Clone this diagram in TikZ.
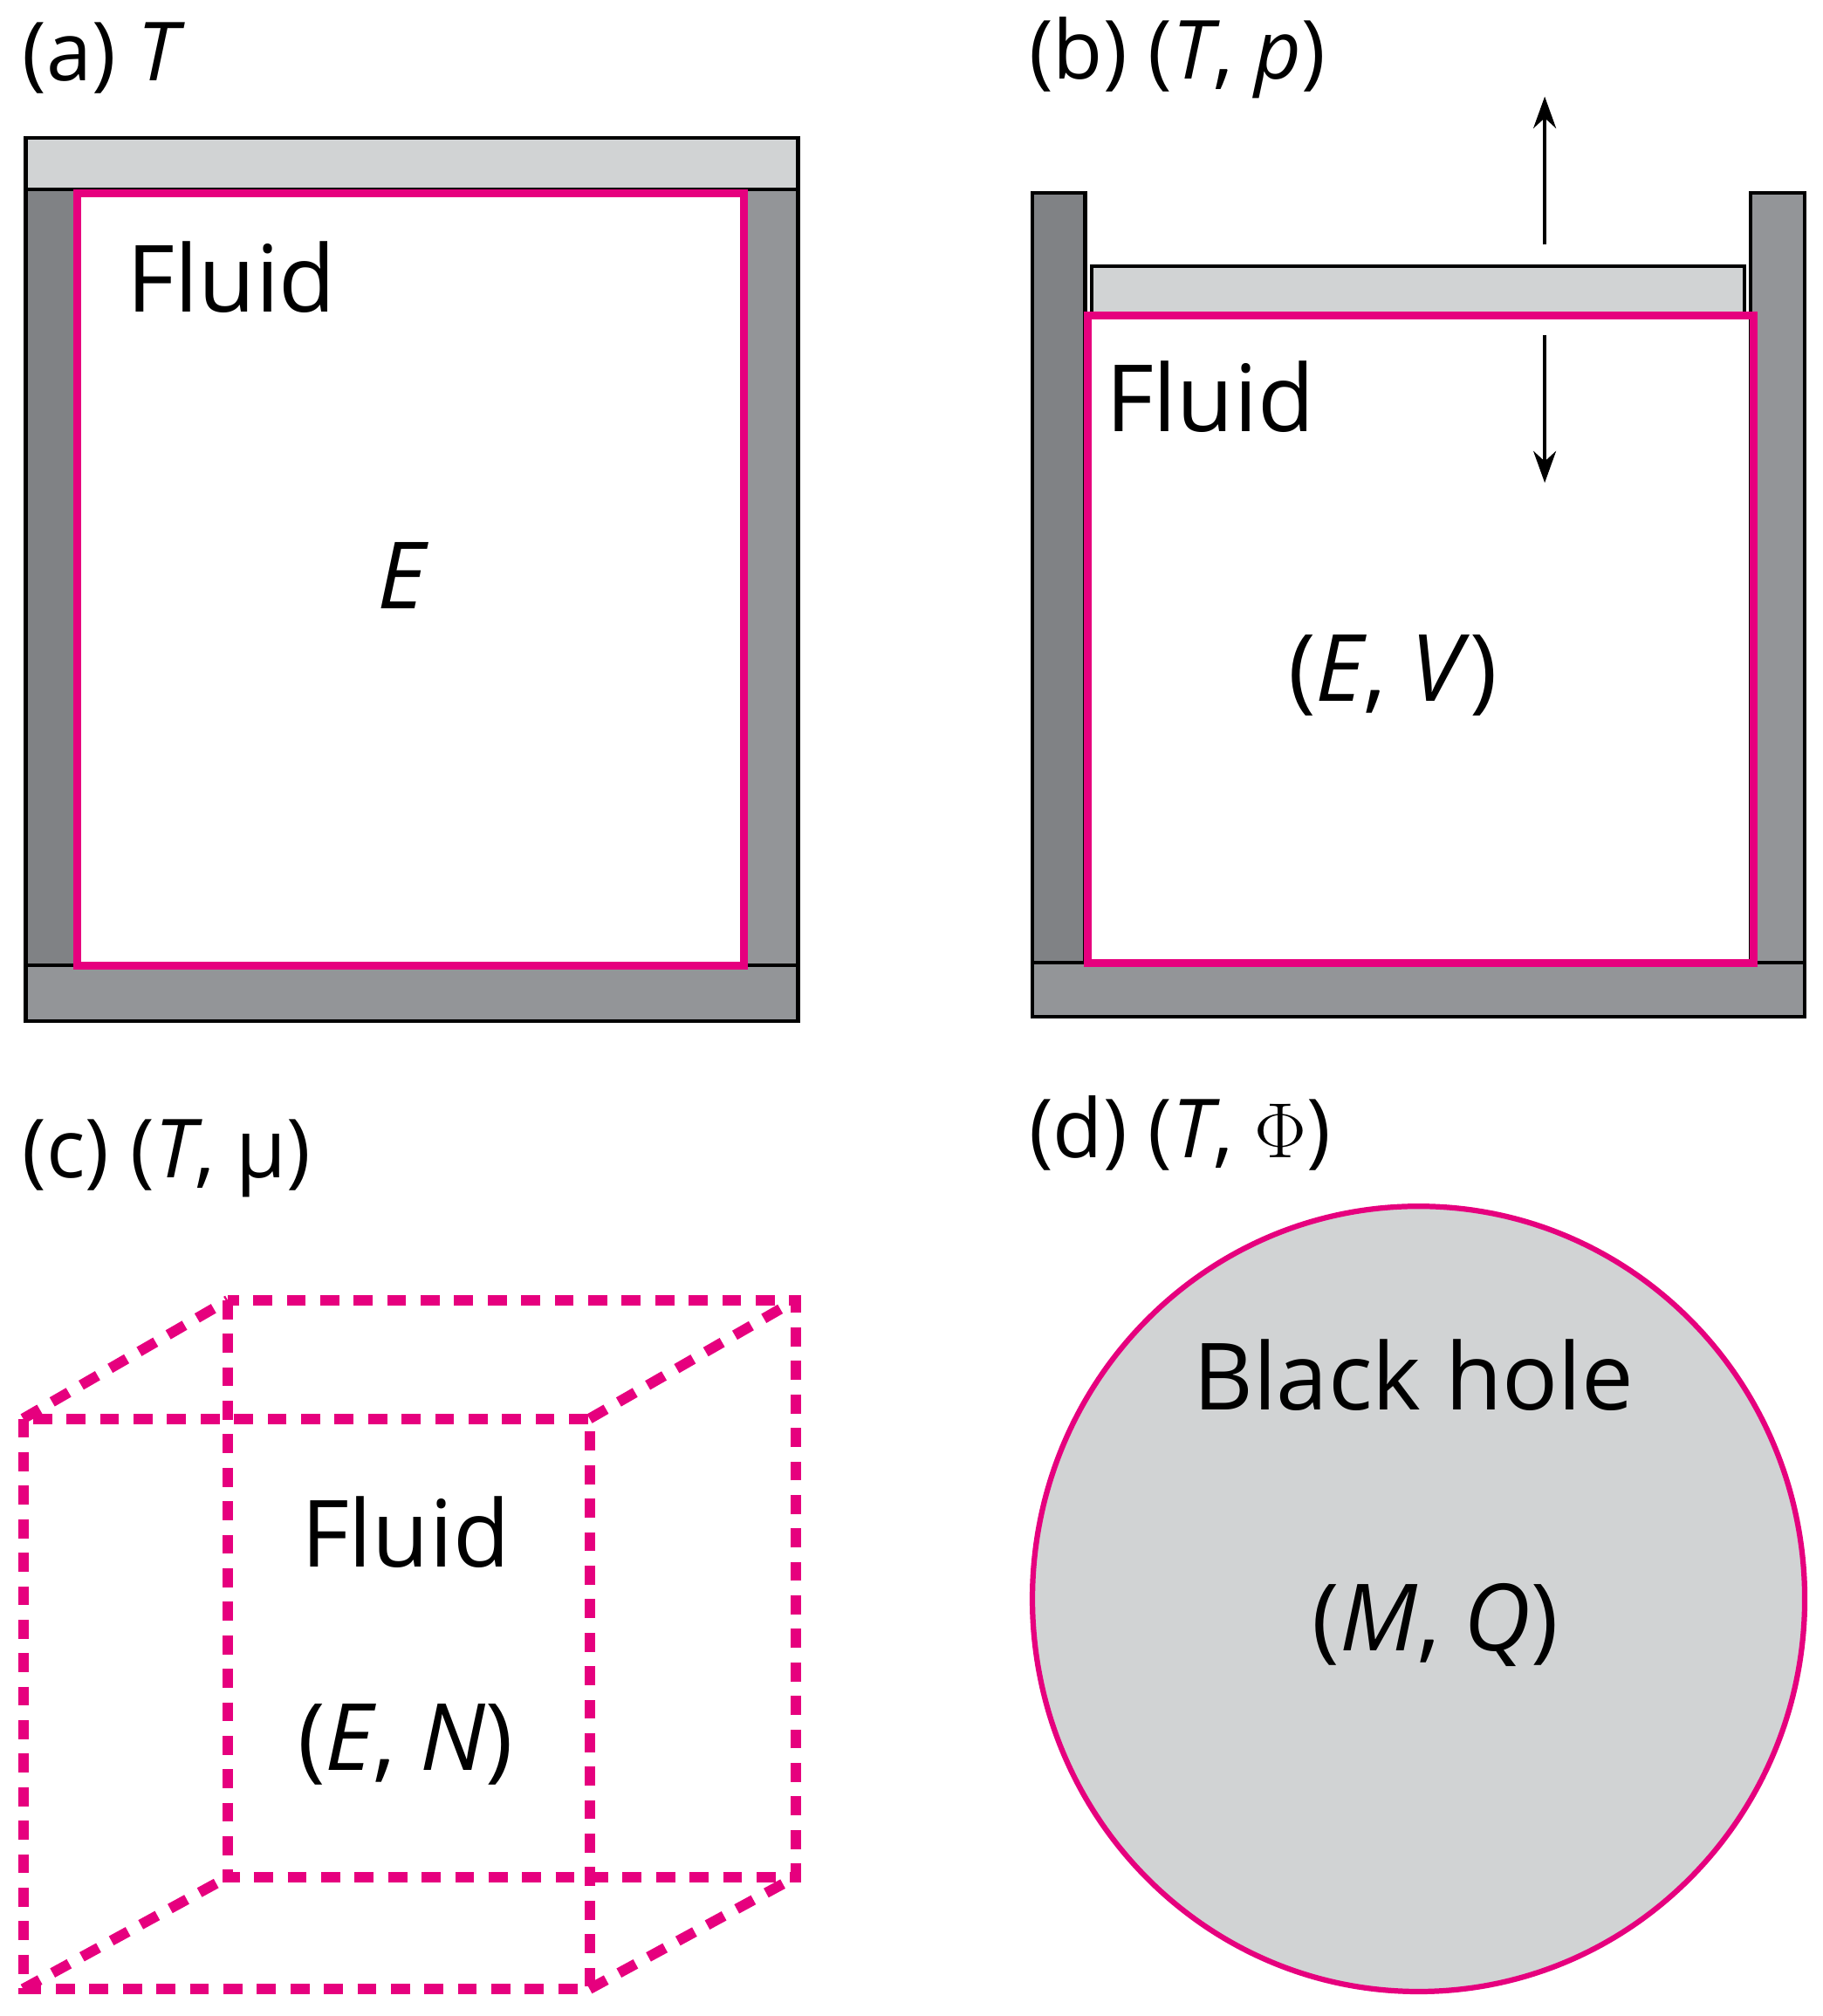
\documentclass[tikz,border=0pt]{standalone}
\usepackage{fontspec}
\setmainfont{Open Sans}
\usetikzlibrary{arrows.meta}
\definecolor{pinkline}{RGB}{230,0,126}
\definecolor{lidgray}{RGB}{209,211,212}
\definecolor{wallgray}{RGB}{147,149,152}
\definecolor{darkwall}{RGB}{128,130,133}
\begin{document}
\begin{tikzpicture}[x=0.01cm,y=-0.01cm,
    wall/.style={draw=black,line width=0.8pt},
    boundary/.style={draw=pinkline,line width=1.7pt},
    dashbox/.style={draw=pinkline,line width=2.3pt,dash pattern=on 4.2pt off 3.2pt},
    panel/.style={font=\fontsize{18}{20}\selectfont,anchor=west},
    inner/.style={font=\fontsize{20.5}{22}\selectfont}]
    \useasboundingbox (0,0) rectangle (1416,1566);
    % (a)
    \node[panel] (la) at (5,45) {(a) \textit{T}};
    \fill[wall,fill=lidgray] (20,107) rectangle (620,147);
    \fill[wall,fill=darkwall] (20,147) rectangle (60,750);
    \fill[wall,fill=wallgray] (578,147) rectangle (620,750);
    \fill[wall,fill=wallgray] (20,750) rectangle (620,793);
    \draw[boundary] (60,150) rectangle (578,750);
    \node[inner] (fa) at (180,215) {Fluid};
    \node[inner] (ea) at (313,447) {\textit{E}};
    % (b)
    \node[panel] (lb) at (787,45) {(b) (\textit{T}, \textit{p})};
    \fill[wall,fill=darkwall] (802,150) rectangle (843,748);
    \fill[wall,fill=wallgray] (1360,150) rectangle (1402,748);
    \fill[wall,fill=wallgray] (802,748) rectangle (1402,790);
    \fill[wall,fill=lidgray] (848,207) rectangle (1355,245);
    \draw[boundary] (845,245) rectangle (1362,748);
    \coordinate (pu) at (1200,190);
    \coordinate (pt) at (1200,75);
    \coordinate (pd) at (1200,260);
    \coordinate (pb) at (1200,375);
    \draw[line width=0.8pt,-{Stealth[length=7pt,width=5pt]}] (pu) -- (pt);
    \draw[line width=0.8pt,-{Stealth[length=7pt,width=5pt]}] (pd) -- (pb);
    \node[inner] (fb) at (940,308) {Fluid};
    \node[inner] (eb) at (1082,525) {(\textit{E}, \textit{V})};
    % (c)
    \node[panel] (lc) at (5,900) {(c) (\textit{T}, \textmu)};
    \draw[dashbox] (177,1010) rectangle (618,1458);
    \draw[dashbox] (18,1102) rectangle (458,1545);
    \draw[dashbox] (18,1102) -- (177,1010);
    \draw[dashbox] (458,1102) -- (618,1010);
    \draw[dashbox] (18,1545) -- (177,1458);
    \draw[dashbox] (458,1545) -- (618,1458);
    \node[inner] (fc) at (315,1190) {Fluid};
    \node[inner] (ec) at (315,1355) {(\textit{E}, \textit{N})};
    % (d)
    \node[panel] (ld) at (787,880) {(d) (\textit{T}, $\Phi$)};
    \draw[draw=pinkline,line width=1.2pt,fill=lidgray] (1102,1242) ellipse (300 and 305);
    \node[inner] (bh) at (1098,1068) {Black hole};
    \node[inner] (mq) at (1115,1262) {(\textit{M}, \textit{Q})};
\end{tikzpicture}
\end{document}
